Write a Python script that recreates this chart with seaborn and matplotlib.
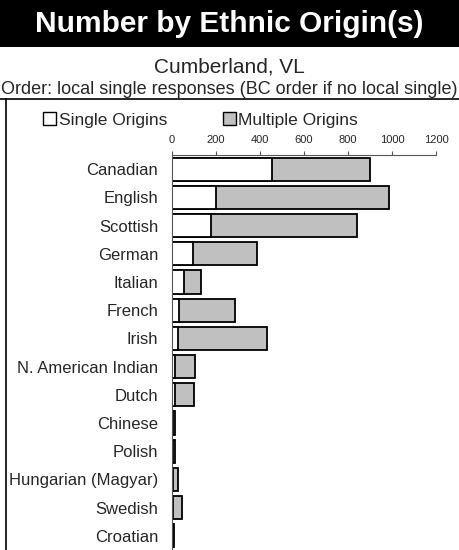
import matplotlib
matplotlib.use("Agg")
import matplotlib.pyplot as plt
import seaborn as sns
import pandas as pd
from matplotlib.patches import Patch, Rectangle
from matplotlib.lines import Line2D

sns.set_theme(style="white")
plt.rcParams['font.family'] = ['Liberation Sans', 'DejaVu Sans']

# data
origins = ['Canadian', 'English', 'Scottish', 'German', 'Italian', 'French', 'Irish',
           'N. American Indian', 'Dutch', 'Chinese', 'Polish', 'Hungarian (Magyar)',
           'Swedish', 'Croatian']
single = [455, 200, 175, 95, 55, 30, 25, 15, 15, 5, 5, 5, 5, 5]
multiple = [445, 785, 665, 290, 75, 255, 405, 90, 85, 8, 7, 20, 40, 6]
x_ticks = [0, 200, 400, 600, 800, 1000, 1200]

df = pd.DataFrame({'origin': origins, 'single': single, 'multiple': multiple})
df['total'] = df['single'] + df['multiple']

W, H = 459, 550
fig = plt.figure(figsize=(W / 100, H / 100), dpi=100)

# black title band
fig.patches.append(Rectangle((0, 1 - 47 / H), 1, 47 / H, transform=fig.transFigure,
                             facecolor='black', edgecolor='none', zorder=0))
fig.text(0.5, 1 - 24 / H, 'Number by Ethnic Origin(s)', color='white', fontsize=21.5,
         fontweight='bold', ha='center', va='center')
fig.text(0.5, 1 - 67 / H, 'Cumberland, VL', fontsize=15, ha='center', va='center')
fig.text(0.5, 1 - 90 / H, 'Order: local single responses (BC order if no local single)',
         fontsize=13, ha='center', va='center')

# frame lines
fig.lines.append(Line2D([0, 1], [1 - 98.5 / H] * 2, transform=fig.transFigure, color='black', lw=1.2))
fig.lines.append(Line2D([6 / W, 6 / W], [0, 1 - 98.5 / H], transform=fig.transFigure, color='black', lw=1.2))

ax = fig.add_axes([172 / W, 0, 264 / W, 395 / H])
sns.barplot(data=df, y='origin', x='total', color='#c0c0c0', edgecolor='black',
            linewidth=1.3, width=0.82, saturation=1, ax=ax)
sns.barplot(data=df, y='origin', x='single', color='white', edgecolor='black',
            linewidth=1.3, width=0.82, saturation=1, ax=ax)

ax.set_xlim(0, 1200)
ax.set_xticks(x_ticks)
ax.xaxis.tick_top()
ax.tick_params(axis='x', top=True, direction='out', length=3, width=0.8,
               color='#555555', labelsize=8, pad=4.5)
ax.tick_params(axis='y', left=False, length=0, labelsize=12, pad=10)
ax.set_xlabel('')
ax.set_ylabel('')
for s in ['right', 'bottom']:
    ax.spines[s].set_visible(False)
ax.spines['top'].set_color('#555555')
ax.spines['left'].set_color('#555555')
ax.spines['top'].set_linewidth(0.8)
ax.spines['left'].set_linewidth(0.8)

handles = [Patch(facecolor='white', edgecolor='black', lw=1),
           Patch(facecolor='#c0c0c0', edgecolor='black', lw=1)]
fig.legend(handles, ['Single Origins', 'Multiple Origins'], loc='center left',
           bbox_to_anchor=(43 / W, 1 - 120 / H), ncol=2, frameon=False, fontsize=12.5,
           handlelength=0.75, handleheight=0.75, handletextpad=0.15, columnspacing=3.2,
           borderaxespad=0, borderpad=0)

fig.savefig('out.png', dpi=100)
